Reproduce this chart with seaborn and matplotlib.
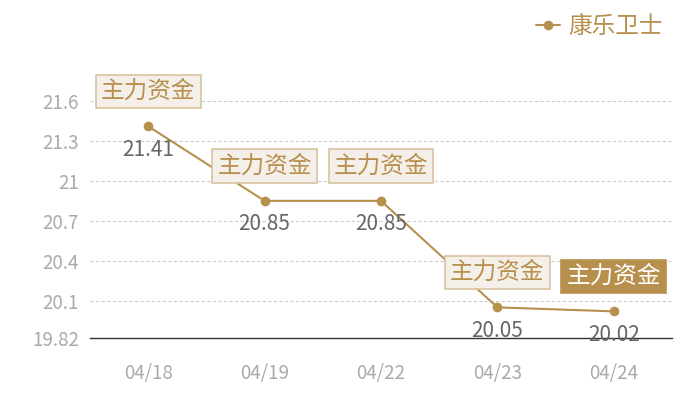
import matplotlib
matplotlib.use('Agg')
import matplotlib.pyplot as plt
import seaborn as sns
import pandas as pd

# chart data
dates = ['04/18', '04/19', '04/22', '04/23', '04/24']
prices = [21.41, 20.85, 20.85, 20.05, 20.02]
series_name = '康乐卫士'
flag_text = '主力资金'
y_ticks = [19.82, 20.1, 20.4, 20.7, 21, 21.3, 21.6]
y_tick_labels = ['19.82', '20.1', '20.4', '20.7', '21', '21.3', '21.6']

gold = '#b8904e'
light_gold = '#d9c3a0'

sns.set_theme(style='white')
plt.rcParams['font.family'] = ['Noto Sans CJK SC', 'DejaVu Sans']

df = pd.DataFrame({'pos': range(len(dates)), 'price': prices})

fig = plt.figure(figsize=(7, 4), dpi=100)
ax = fig.add_axes([90 / 700, 1 - 338 / 400, 582 / 700, 237 / 400])

sns.lineplot(data=df, x='pos', y='price', ax=ax, color=gold, linewidth=1.5,
             marker='o', markersize=7, markeredgewidth=0, label=series_name)

ax.set_xlim(-0.5, len(dates) - 0.5)
ax.set_ylim(19.82, 21.6)
ax.set_xticks(range(len(dates)))
ax.set_xticklabels(dates)
ax.set_yticks(y_ticks)
ax.set_yticklabels(y_tick_labels)
ax.set_xlabel('')
ax.set_ylabel('')
ax.tick_params(axis='both', length=0, labelsize=13.5, colors='#aaaaaa')
ax.tick_params(axis='x', pad=18)
ax.tick_params(axis='y', pad=8)

for yv in y_ticks[1:]:
    ax.axhline(yv, color='#cccccc', linewidth=0.8, linestyle=(0, (3, 2)), zorder=0)

for s in ['top', 'right', 'left']:
    ax.spines[s].set_visible(False)
ax.spines['bottom'].set_color('#333333')
ax.spines['bottom'].set_linewidth(1)

for i, v in enumerate(prices):
    ax.annotate(f'{v:.2f}', (i, v), xytext=(0, -17), textcoords='offset points',
                ha='center', va='center', fontsize=15, color='#666666',
                annotation_clip=False)
    last = i == len(prices) - 1
    ax.annotate(flag_text, (i, v), xytext=(0, 25), textcoords='offset points',
                ha='center', va='center', fontsize=17,
                color='white' if last else gold,
                bbox=dict(boxstyle='square,pad=0.22',
                          facecolor=gold if last else '#f4efe8',
                          edgecolor=gold if last else light_gold,
                          linewidth=1.2),
                annotation_clip=False, zorder=5)

leg = ax.legend(loc='upper right', bbox_to_anchor=(1.0, 1 + 95 / 237),
                frameon=False, fontsize=17, handlelength=1.0,
                handletextpad=0.35, borderaxespad=0)
for t in leg.get_texts():
    t.set_color(gold)

fig.savefig('out.png', dpi=100)
